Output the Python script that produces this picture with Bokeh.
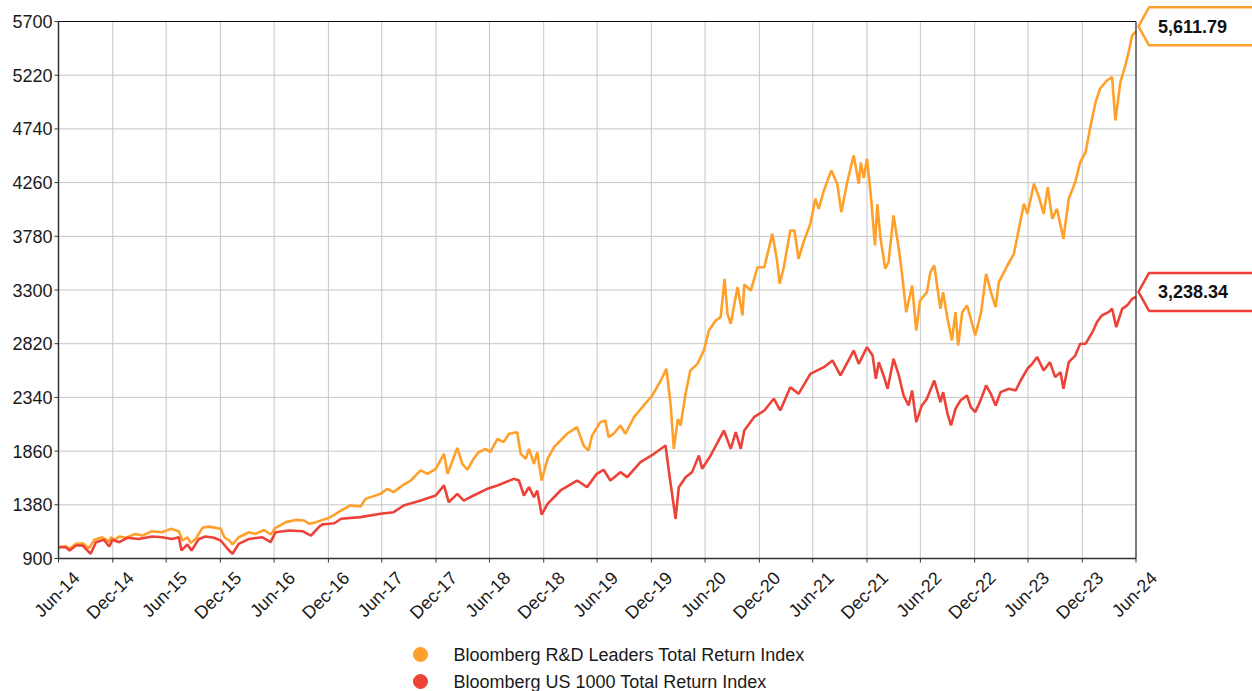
import pandas as pd
from math import pi
from bokeh.plotting import figure
from bokeh.models import Label, PolyAnnotation, Range1d
from bokeh.core.properties import value
from bokeh.embed import file_html
from bokeh.resources import INLINE

# ---------------- data ----------------
series_names = ["Bloomberg R&D Leaders Total Return Index",
                "Bloomberg US 1000 Total Return Index"]

rd_dates = [
    "2014-06-30", "2014-07-24", "2014-08-07", "2014-08-28", "2014-09-20", "2014-10-12", "2014-10-29",
    "2014-11-26", "2014-12-19", "2014-12-25", "2015-01-05", "2015-01-22", "2015-02-13", "2015-03-18",
    "2015-04-10", "2015-05-13", "2015-06-16", "2015-07-15", "2015-08-12", "2015-08-24", "2015-09-10",
    "2015-09-21", "2015-10-08", "2015-10-31", "2015-11-22", "2015-12-15", "2016-01-01", "2016-01-13",
    "2016-01-30", "2016-02-10", "2016-03-02", "2016-04-06", "2016-04-28", "2016-05-27", "2016-06-18",
    "2016-07-05", "2016-08-09", "2016-09-12", "2016-10-10", "2016-10-27", "2016-11-19", "2016-12-11",
    "2017-01-03", "2017-01-20", "2017-02-12", "2017-03-16", "2017-04-19", "2017-05-06", "2017-06-26",
    "2017-07-19", "2017-08-09", "2017-09-08", "2017-10-06", "2017-11-09", "2017-12-02", "2017-12-30",
    "2018-01-27", "2018-02-08", "2018-02-25", "2018-03-13", "2018-03-30", "2018-04-16", "2018-05-07",
    "2018-05-24", "2018-06-17", "2018-07-03", "2018-07-27", "2018-08-17", "2018-09-04", "2018-10-02",
    "2018-10-14", "2018-10-31", "2018-11-11", "2018-11-28", "2018-12-09", "2018-12-24", "2019-01-13",
    "2019-02-04", "2019-03-20", "2019-04-23", "2019-05-15", "2019-06-01", "2019-06-13", "2019-07-11",
    "2019-07-28", "2019-08-08", "2019-08-25", "2019-09-17", "2019-10-04", "2019-11-02", "2019-12-05",
    "2020-01-03", "2020-02-01", "2020-02-20", "2020-03-05", "2020-03-16", "2020-03-30", "2020-04-08",
    "2020-04-25", "2020-05-11", "2020-06-04", "2020-06-26", "2020-07-13", "2020-08-05", "2020-08-22",
    "2020-09-04", "2020-09-14", "2020-09-25", "2020-10-18", "2020-11-04", "2020-11-10", "2020-12-02",
    "2020-12-25", "2021-01-17", "2021-02-13", "2021-03-01", "2021-03-10", "2021-03-24", "2021-04-15",
    "2021-04-29", "2021-05-13", "2021-05-30", "2021-06-22", "2021-07-09", "2021-07-20", "2021-08-07",
    "2021-09-01", "2021-09-21", "2021-10-05", "2021-10-25", "2021-11-16", "2021-12-03", "2021-12-10",
    "2021-12-20", "2021-12-31", "2022-01-13", "2022-01-27", "2022-02-04", "2022-02-15", "2022-03-03",
    "2022-03-14", "2022-03-31", "2022-04-18", "2022-04-28", "2022-05-13", "2022-06-02", "2022-06-16",
    "2022-06-29", "2022-07-22", "2022-08-03", "2022-08-16", "2022-09-06", "2022-09-15", "2022-09-30",
    "2022-10-15", "2022-10-27", "2022-11-05", "2022-11-19", "2022-12-05", "2022-12-18", "2023-01-02",
    "2023-01-22", "2023-02-08", "2023-02-24", "2023-03-12", "2023-03-23", "2023-04-21", "2023-05-13",
    "2023-05-30", "2023-06-16", "2023-06-28", "2023-07-20", "2023-08-06", "2023-08-22", "2023-09-05",
    "2023-09-20", "2023-10-06", "2023-10-28", "2023-11-15", "2023-12-07", "2023-12-24", "2024-01-11",
    "2024-01-28", "2024-02-14", "2024-02-29", "2024-03-24", "2024-04-10", "2024-04-21", "2024-05-08",
    "2024-05-25", "2024-06-05", "2024-06-17", "2024-06-30",
]
rd_values = [
    1000, 1011, 987, 1031, 1036, 992, 1067,
    1090, 1050, 1090, 1067, 1096, 1085, 1120,
    1105, 1144, 1135, 1165, 1144, 1061, 1090,
    1040, 1075, 1174, 1185, 1174, 1165, 1090,
    1061, 1025, 1090, 1135, 1120, 1155, 1114,
    1174, 1225, 1245, 1240, 1210, 1225, 1245,
    1265, 1290, 1329, 1374, 1365, 1433, 1478,
    1523, 1493, 1553, 1597, 1687, 1657, 1702,
    1836, 1657, 1776, 1889, 1746, 1693, 1791,
    1850, 1880, 1850, 1970, 1940, 2015, 2029,
    1836, 1791, 1880, 1746, 1850, 1597, 1791,
    1895, 2015, 2074, 1910, 1865, 2000, 2119,
    2134, 1985, 2015, 2089, 2015, 2163, 2268,
    2357, 2491, 2596, 2283, 1880, 2148, 2089,
    2372, 2581, 2640, 2759, 2938, 3027, 3057,
    3400, 3087, 2998, 3325, 3072, 3350, 3295,
    3504, 3504, 3803, 3564, 3356, 3504, 3832,
    3832, 3579, 3728, 3892, 4116, 4026, 4190,
    4369, 4250, 3996, 4265, 4503, 4250, 4440,
    4300, 4473, 4145, 3698, 4066, 3758, 3490,
    3550, 3966, 3668, 3459, 3102, 3340, 2938,
    3206, 3281, 3459, 3519, 3132, 3281, 3043,
    2849, 3102, 2804, 3102, 3162, 3043, 2893,
    3102, 3445, 3281, 3147, 3370, 3519, 3623,
    3847, 4071, 3981, 4250, 4131, 3981, 4220,
    3936, 4026, 3758, 4116, 4264, 4443, 4532,
    4771, 4979, 5099, 5173, 5203, 4815, 5158,
    5307, 5426, 5575, 5611.79,
]

us_dates = [
    "2014-06-30", "2014-07-24", "2014-08-07", "2014-08-28", "2014-09-20", "2014-10-17", "2014-11-04",
    "2014-12-01", "2014-12-19", "2014-12-30", "2015-01-22", "2015-02-18", "2015-03-29", "2015-05-13",
    "2015-06-16", "2015-07-20", "2015-08-12", "2015-08-21", "2015-09-10", "2015-09-24", "2015-10-19",
    "2015-11-11", "2015-12-09", "2016-01-01", "2016-01-24", "2016-02-10", "2016-03-02", "2016-04-06",
    "2016-05-21", "2016-06-18", "2016-07-05", "2016-08-20", "2016-10-04", "2016-11-02", "2016-11-30",
    "2016-12-11", "2017-01-03", "2017-01-20", "2017-02-12", "2017-04-19", "2017-06-26", "2017-08-09",
    "2017-09-12", "2017-11-09", "2017-12-30", "2018-01-27", "2018-02-12", "2018-03-13", "2018-04-04",
    "2018-05-07", "2018-06-23", "2018-07-27", "2018-09-21", "2018-10-08", "2018-10-25", "2018-11-11",
    "2018-11-28", "2018-12-09", "2018-12-24", "2019-01-13", "2019-02-26", "2019-04-23", "2019-05-27",
    "2019-06-29", "2019-07-22", "2019-08-14", "2019-09-17", "2019-10-10", "2019-11-24", "2020-01-09",
    "2020-02-17", "2020-02-28", "2020-03-22", "2020-04-02", "2020-04-25", "2020-05-17", "2020-06-09",
    "2020-06-20", "2020-07-19", "2020-09-02", "2020-09-25", "2020-10-12", "2020-10-29", "2020-11-10",
    "2020-12-13", "2021-01-17", "2021-02-18", "2021-03-12", "2021-04-15", "2021-05-13", "2021-06-22",
    "2021-08-07", "2021-09-05", "2021-10-02", "2021-11-16", "2021-12-03", "2021-12-31", "2022-01-19",
    "2022-01-30", "2022-02-09", "2022-02-25", "2022-03-11", "2022-03-31", "2022-04-18", "2022-05-04",
    "2022-05-21", "2022-06-02", "2022-06-16", "2022-07-05", "2022-07-22", "2022-08-16", "2022-09-06",
    "2022-09-15", "2022-09-30", "2022-10-12", "2022-10-27", "2022-11-13", "2022-12-05", "2022-12-18",
    "2023-01-02", "2023-01-22", "2023-02-08", "2023-02-24", "2023-03-12", "2023-03-29", "2023-04-26",
    "2023-05-19", "2023-06-05", "2023-06-28", "2023-07-14", "2023-07-31", "2023-08-22", "2023-09-12",
    "2023-09-30", "2023-10-18", "2023-10-28", "2023-11-15", "2023-12-07", "2023-12-24", "2024-01-11",
    "2024-02-03", "2024-02-19", "2024-03-06", "2024-03-29", "2024-04-10", "2024-04-24", "2024-05-14",
    "2024-05-31", "2024-06-17", "2024-06-30",
]
us_values = [
    1000, 1001, 972, 1016, 1016, 942, 1046,
    1067, 1007, 1067, 1046, 1085, 1075, 1096,
    1090, 1075, 1090, 972, 1025, 972, 1075,
    1096, 1085, 1061, 987, 942, 1031, 1075,
    1090, 1046, 1135, 1150, 1144, 1105, 1185,
    1205, 1210, 1215, 1255, 1270, 1300, 1314,
    1374, 1418, 1463, 1553, 1403, 1478, 1418,
    1463, 1523, 1553, 1612, 1597, 1463, 1538,
    1448, 1508, 1293, 1388, 1508, 1597, 1538,
    1657, 1693, 1597, 1672, 1627, 1761, 1836,
    1910, 1687, 1255, 1537, 1627, 1672, 1821,
    1702, 1821, 2044, 1880, 2029, 1880, 2044,
    2163, 2223, 2328, 2223, 2431, 2372, 2551,
    2610, 2670, 2536, 2759, 2640, 2789, 2714,
    2506, 2655, 2536, 2417, 2685, 2536, 2357,
    2268, 2402, 2119, 2268, 2327, 2491, 2297,
    2387, 2193, 2089, 2238, 2312, 2357, 2253,
    2208, 2327, 2447, 2372, 2268, 2387, 2417,
    2402, 2491, 2596, 2640, 2700, 2580, 2655,
    2521, 2566, 2417, 2655, 2714, 2819, 2819,
    2923, 3013, 3072, 3102, 3132, 2968, 3132,
    3162, 3221, 3238.34,
]

tick_dates = [
    "2014-06-30", "2014-12-31", "2015-06-30", "2015-12-31", "2016-06-30", "2016-12-31",
    "2017-06-30", "2017-12-31", "2018-06-30", "2018-12-31", "2019-06-30", "2019-12-31",
    "2020-06-30", "2020-12-31", "2021-06-30", "2021-12-31", "2022-06-30", "2022-12-31",
    "2023-06-30", "2023-12-31", "2024-06-30",
]
tick_labels = [
    "Jun-14", "Dec-14", "Jun-15", "Dec-15", "Jun-16", "Dec-16", "Jun-17", "Dec-17",
    "Jun-18", "Dec-18", "Jun-19", "Dec-19", "Jun-20", "Dec-20", "Jun-21", "Dec-21",
    "Jun-22", "Dec-22", "Jun-23", "Dec-23", "Jun-24",
]
y_ticks = [900, 1380, 1860, 2340, 2820, 3300, 3780, 4260, 4740, 5220, 5700]
y_tick_labels = [str(t) for t in y_ticks]

colors = ["#FFA02A", "#EC4237"]

# ---------------- layout (pixels) ----------------
def ms(d):
    return pd.Timestamp(d).value / 1e6

W, H = 1252, 691
PL, PR, PT, PB = 58.0, 1135.5, 21.0, 558.0   # visible plot area on the canvas

x0, x1 = ms(tick_dates[0]), ms(tick_dates[-1])
y0, y1 = y_ticks[0], y_ticks[-1]
ux = (x1 - x0) / (PR - PL)    # data units per pixel
uy = (y1 - y0) / (PB - PT)

def px_x(px):      # canvas pixel -> data x
    return x0 + (px - PL) * ux

def px_y(py):      # canvas pixel (from top) -> data y
    return y0 + (PB - py) * uy

xr = Range1d(px_x(0), px_x(W))
yr = Range1d(px_y(H), px_y(0))

FONT = "Liberation Sans"
TXT = "#1a1a1a"
AX = "#333333"

p = figure(width=W, height=H, x_range=xr, y_range=yr,
           x_axis_location=None, y_axis_location=None,
           min_border_left=0, min_border_right=0, min_border_top=0, min_border_bottom=0,
           output_backend="svg", toolbar_location=None)
p.outline_line_color = None
p.grid.visible = False
p.background_fill_color = "white"
p.border_fill_color = "white"

tick_ms = [ms(d) for d in tick_dates]
n = len(tick_ms)
m = len(y_ticks)

# grid lines
GRID = "#c6c6c6"
p.segment(x0=tick_ms, x1=tick_ms, y0=[y0] * n, y1=[y1] * n, line_color=GRID, line_width=1)
p.segment(x0=[x0] * m, x1=[x1] * m, y0=y_ticks, y1=y_ticks, line_color=GRID, line_width=1)

# series
series = [(rd_dates, rd_values), (us_dates, us_values)]
for (dts, vals), c in zip(series, colors):
    p.line([ms(d) for d in dts], vals, line_color=c, line_width=2.6)

# axes lines, borders and ticks
p.segment(x0=[x0, x0], x1=[x1, x0], y0=[y0, y0], y1=[y0, y1], line_color=AX, line_width=1.5)
p.segment(x0=[x0, x1], x1=[x1, x1], y0=[y1, y0], y1=[y1, y1], line_color="#111111", line_width=1)
p.segment(x0=tick_ms, x1=tick_ms, y0=[y0] * n, y1=[y0 - 4 * uy] * n, line_color=AX, line_width=1)
p.segment(x0=[x0 - 4 * ux] * m, x1=[x0] * m, y0=y_ticks, y1=y_ticks, line_color=AX, line_width=1)

# y tick labels
p.text(x=[x0 - 6 * ux] * m, y=y_ticks, text=y_tick_labels,
       text_align="right", text_baseline="middle",
       text_font=value(FONT), text_font_size="18px", text_color=TXT)

# rotated x tick labels
p.text(x=tick_ms, y=[y0 - 16.5 * uy] * n, text=tick_labels, angle=pi / 4, x_offset=18,
       text_align="right", text_baseline="middle",
       text_font=value(FONT), text_font_size="18px", text_color=TXT)

# end-value callouts
for (dts, vals), c in zip(series, colors):
    last = vals[-1]
    ty = last + 5 * uy
    hh = 19 * uy
    xs = [x1 + 2.5 * ux, x1 + 13 * ux, x1 + 140 * ux, x1 + 140 * ux, x1 + 13 * ux]
    ys = [ty, ty + hh, ty + hh, ty - hh, ty - hh]
    p.add_layout(PolyAnnotation(xs=xs, ys=ys, xs_units="data", ys_units="data",
                                fill_color="white", fill_alpha=1.0,
                                line_color=c, line_alpha=1.0, line_width=2.5))
    p.add_layout(Label(x=x1 + 22 * ux, y=ty, text=f"{last:,.2f}",
                       text_align="left", text_baseline="middle",
                       text_font=FONT, text_font_size="18px", text_font_style="bold",
                       text_color="#111111"))

# legend: dot markers and labels below the plot
leg_rows = [654, 681]
p.scatter(x=[px_x(420)] * 2, y=[px_y(r) for r in leg_rows], marker="circle", size=14,
          fill_color=colors, line_color=colors)
p.text(x=[px_x(453)] * 2, y=[px_y(r) for r in leg_rows], text=series_names,
       text_align="left", text_baseline="middle",
       text_font=value(FONT), text_font_size="18px", text_color=TXT)

open("out.html", "w").write(file_html(p, INLINE))
